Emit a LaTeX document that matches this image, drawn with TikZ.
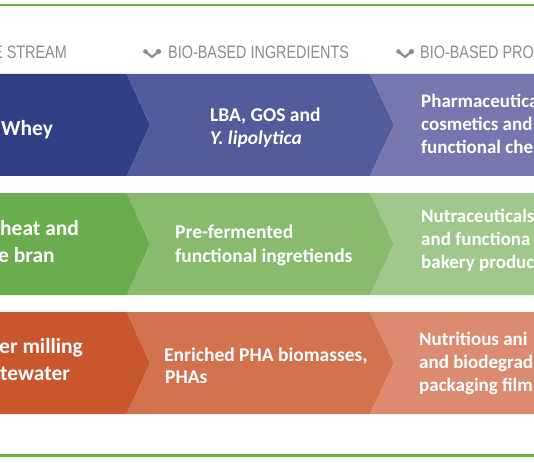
\documentclass[tikz,border=0pt]{standalone}
\usepackage{fontspec}
\setmainfont{Carlito}
\newfontfamily\hdrfont[FakeStretch=0.8]{Liberation Sans}
\definecolor{lineG}{RGB}{112,173,71}
\definecolor{hdrG}{RGB}{140,140,140}
\definecolor{bA}{RGB}{50,63,135}
\definecolor{bB}{RGB}{82,91,156}
\definecolor{bC}{RGB}{120,118,174}
\definecolor{gA}{RGB}{106,173,79}
\definecolor{gB}{RGB}{136,187,110}
\definecolor{gC}{RGB}{161,200,139}
\definecolor{oA}{RGB}{201,86,45}
\definecolor{oB}{RGB}{211,114,78}
\definecolor{oC}{RGB}{219,139,112}
\begin{document}
\begin{tikzpicture}[x=1pt,y=-1pt,
  hdr/.style={text=hdrG,font=\hdrfont\fontsize{18}{20}\selectfont,inner sep=0},
  tl/.style={text=white,anchor=base west,inner sep=0},
  big/.style={tl,font=\bfseries\fontsize{21.5}{25}\selectfont},
  mid/.style={tl,font=\bfseries\fontsize{19.5}{23}\selectfont},
  sml/.style={tl,font=\bfseries\fontsize{19}{22}\selectfont},
  icon/.style={draw=hdrG,fill=hdrG}]
\clip (0,0) rectangle (534,462);
\useasboundingbox (0,0) rectangle (534,462);
\fill[white] (0,0) rectangle (534,462);
% green rules
\fill[lineG] (0,4) rectangle (534,6.5);
\fill[lineG] (0,454) rectangle (534,456.5);
% header
\node[hdr,anchor=base east] (h1) at (67,59) {E STREAM};
\node[hdr,anchor=base west] (h2) at (168,59) {BIO-BASED INGREDIENTS};
\node[hdr,anchor=base west] (h3) at (420,59) {BIO-BASED PRO};
\foreach \cx in {152,405}{
  \draw[hdrG,line width=2.2pt,line cap=round,line join=round] (\cx-6,52) -- (\cx,57) -- (\cx+6,52);
  \fill[hdrG] (\cx-6.5,51.5) circle (2.3);
  \fill[hdrG] (\cx+6.5,51.5) circle (2.6);
}
% rows
\foreach \ya/\yb/\ca/\cb/\cc in {74/176/bA/bB/bC, 193/295/gA/gB/gC, 312/414/oA/oB/oC}{
  \pgfmathsetmacro{\ym}{(\ya+\yb)/2}
  \fill[\ca] (0,\ya) -- (127,\ya) -- (150,\ym) -- (127,\yb) -- (0,\yb) -- cycle;
  \fill[\cb] (127,\ya) -- (370,\ya) -- (394,\ym) -- (370,\yb) -- (127,\yb) -- (150,\ym) -- cycle;
  \fill[\cc] (370,\ya) -- (534,\ya) -- (534,\yb) -- (370,\yb) -- (394,\ym) -- cycle;
}
% row 1 texts
\node[big] (r1a) at (1,136) {Whey};
\node[mid] (r1b1) at (210,122) {LBA, GOS and};
\node[mid] (r1b2) at (210,145) {\itshape Y. lipolytica};
\node[sml] (r1c1) at (421,108) {Pharmaceutica};
\node[sml] (r1c2) at (421,131) {cosmetics and};
\node[sml] (r1c3) at (421,154) {functional che};
% row 2 texts
\node[big] (r2a1) at (0,235) {heat and};
\node[big] (r2a2) at (-2,262) {e bran};
\node[mid] (r2b1) at (175,238) {Pre-fermented};
\node[mid] (r2b2) at (175,262) {functional ingretiends};
\node[sml] (r2c1) at (421,222) {Nutraceuticals};
\node[sml] (r2c2) at (421,245) {and functiona};
\node[sml] (r2c3) at (421,268) {bakery produc};
% row 3 texts
\node[big] (r3a1) at (-1,353) {er milling};
\node[big] (r3a2) at (0,380) {tewater};
\node[mid] (r3b1) at (164,361) {Enriched PHA biomasses,};
\node[mid] (r3b2) at (165,383) {PHAs};
\node[sml] (r3c1) at (419,345) {Nutritious ani};
\node[sml] (r3c2) at (419,368) {and biodegrad};
\node[sml] (r3c3) at (419,391) {packaging film};
\end{tikzpicture}
\end{document}
